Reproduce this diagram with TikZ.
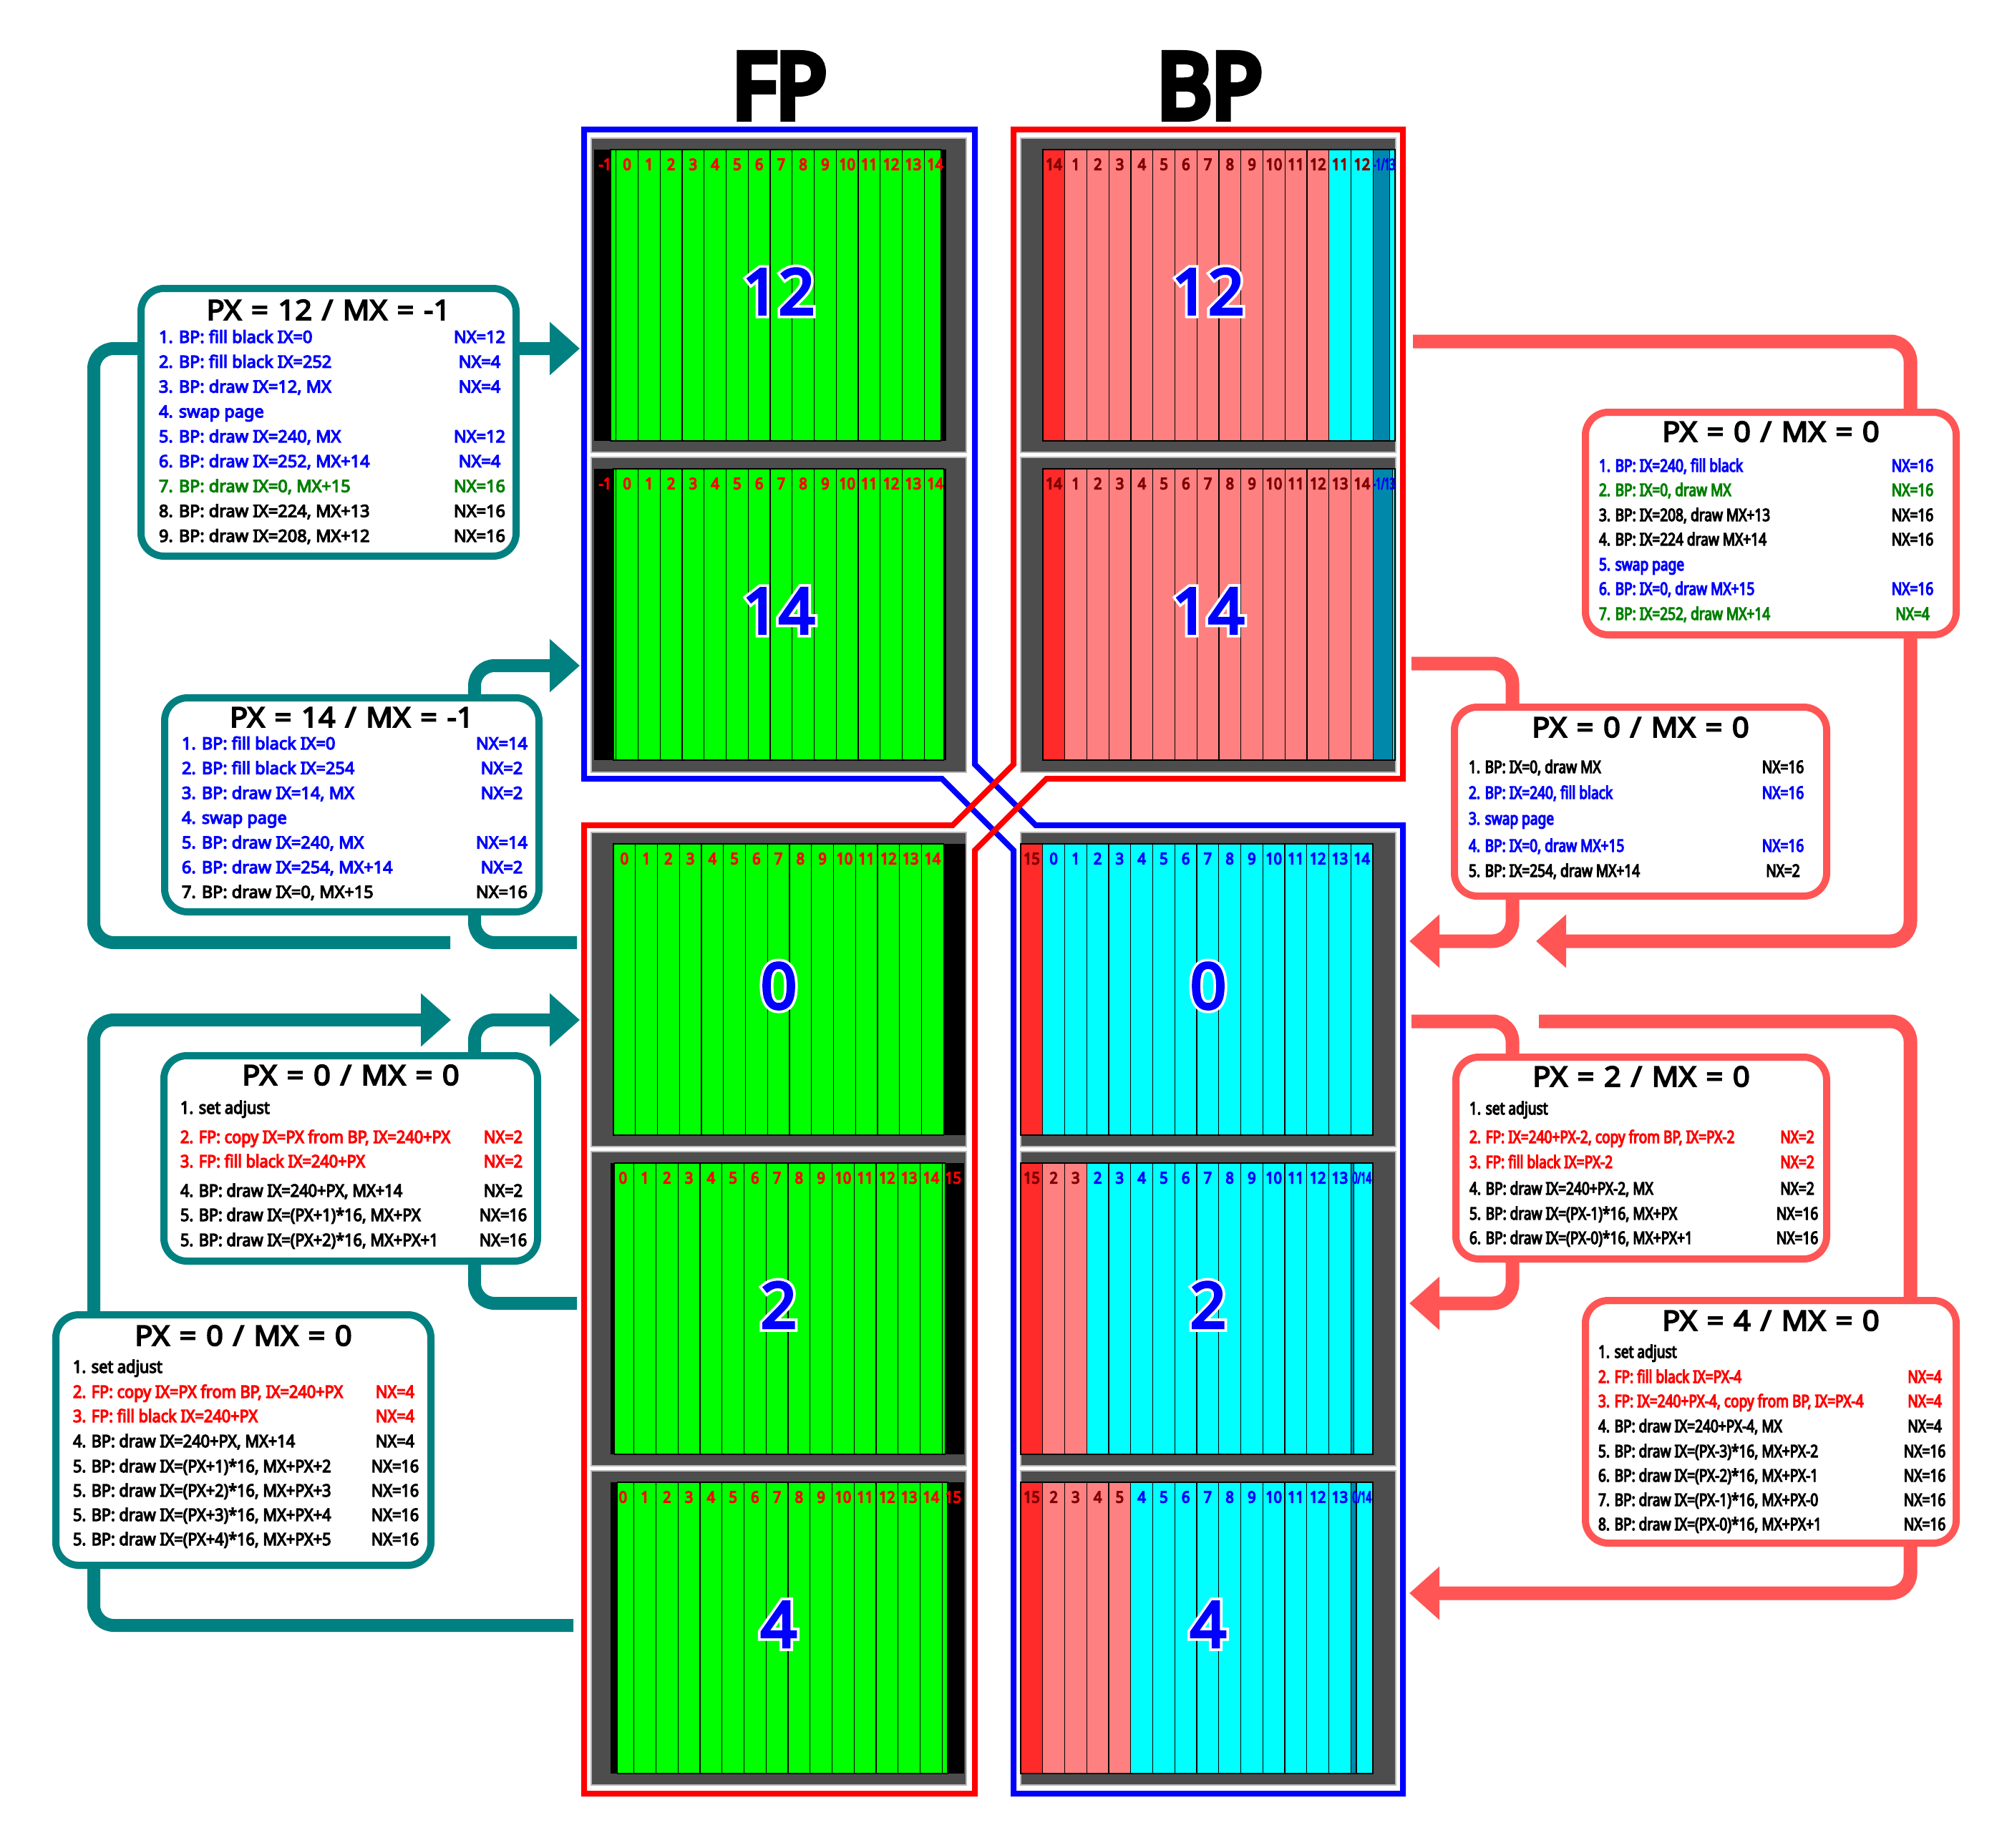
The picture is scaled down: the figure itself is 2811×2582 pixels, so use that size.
\documentclass[tikz,border=0pt]{standalone}
\usepackage{fontspec}
\usetikzlibrary{arrows.meta}
\newfontfamily\fN{Noto Sans}[FakeBold=5]
\newfontfamily\fNt{Noto Sans}[FakeStretch=1.07,FakeBold=4.5,WordSpace=1.25]
\newfontfamily\fNh{Noto Sans}[FakeStretch=0.93,FakeBold=8]
\newfontfamily\fNb{Noto Sans}[FakeStretch=0.905,FakeBold=5]
\newfontfamily\fNc{Noto Sans}[FakeStretch=0.795,FakeBold=5]
\newfontfamily\fNl{Noto Sans}[FakeStretch=0.9,FakeBold=6]
\newfontfamily\fNs{Noto Sans}[FakeStretch=0.58,FakeBold=5]
\newfontfamily\fNbig{Noto Sans}[FakeBold=4.5]
\newfontfamily\fNhalo{Noto Sans}[FakeBold=13]
\definecolor{tl}{RGB}{0,128,128}
\definecolor{sl}{RGB}{255,85,85}
\definecolor{salmcell}{RGB}{255,128,128}
\definecolor{redcell}{RGB}{255,42,42}
\definecolor{tealcell}{RGB}{0,136,170}
\definecolor{cyn}{RGB}{0,255,255}
\definecolor{dred}{RGB}{128,0,0}
\definecolor{gp}{RGB}{77,77,77}
\definecolor{dgreen}{RGB}{0,128,0}
\definecolor{fpg}{RGB}{0,255,0}
\definecolor{bl}{RGB}{0,0,255}
\definecolor{rd}{RGB}{255,0,0}
\newcommand\fIa{\fN\fontsize{23.5}{23.5}\selectfont}
\newcommand\fIb{\fNb\fontsize{24}{24}\selectfont}
\newcommand\fIc{\fNc\fontsize{24}{24}\selectfont}
\newcommand\cw{30.75}
\newcommand\bxi[6]{\node[anchor=base west, text=#3, font=#2] (#1) at (#4,#5) {#6};}
\newcommand\bxn[6]{\node[anchor=base, text=#3, font=#2] (#1) at (#4,#5) {#6};}
% FP strip: id, origin, ytop, shift, bg left, label offset, last label slot
\newcommand\fpstrip[7]{%
  \fill[black] (#5,#3) rectangle ({#2+16*\cw},{#3+407});
  \foreach \k in {0,...,15}{%
    \pgfmathsetmacro\xa{max(#2+\k*\cw, #2+#4)}%
    \pgfmathsetmacro\xb{min(#2+(\k+1)*\cw, #2+15*\cw+#4)}%
    \ifdim\xa pt<\xb pt \filldraw[fill=fpg, cellr] (\xa,#3) rectangle (\xb,{#3+407}); \fi
  }
  \foreach \k in {0,...,#7}{%
    \pgfmathtruncatemacro\lab{\k+#6}%
    \node[clab, text=rd] (#1-\k) at ({#2+(\k+0.5)*\cw},{#3+28.5}) {\lab};
  }
}
% BP cell: id, slot, origin, ytop, fill, label, label colour
\newcommand\bpcell[7]{%
  \filldraw[fill=#5, cellr] ({#3+#2*\cw},#4) rectangle ({#3+(#2+1)*\cw},{#4+407});
  \node[clab, text=#7] (#1-#2) at ({#3+(#2+0.5)*\cw},{#4+28.5}) {#6};
}
% BP split last slot: id, origin, ytop, teal width, label
\newcommand\bpsplit[5]{%
  \filldraw[fill=cyn, cellr] ({#2+15*\cw},#3) rectangle ({#2+16*\cw},{#3+407});
  \filldraw[fill=tealcell, cellr] ({#2+15*\cw},#3) rectangle ({#2+15*\cw+#4},{#3+407});
  \node[clabs] (#1-15) at ({#2+15.5*\cw},{#3+28.5}) {#5};
}
% big number with white halo: id, x, y, text
\newcommand\bignr[4]{%
  \node[bighalo] (#1h) at (#2,#3) {#4};
  \node[bignum] (#1) at (#2,#3) {#4};
}
\tikzset{
  every node/.style={inner sep=0pt, outer sep=0pt},
  frameline/.style={line width=8pt},
  panel/.style={fill=gp, draw=gray!55, line width=1.5pt},
  cellr/.style={draw=black, line width=1.2pt},
  clab/.style={anchor=base, font=\fNl\fontsize{22}{22}\selectfont},
  clabs/.style={anchor=base, text=bl, font=\fNs\fontsize{22}{22}\selectfont},
  bignum/.style={anchor=base, text=bl, font=\fNbig\fontsize{88}{88}\selectfont},
  bighalo/.style={anchor=base, text=white, font=\fNhalo\fontsize{88}{88}\selectfont},
  hdr/.style={anchor=base, font=\fNh\fontsize{126}{126}\selectfont},
  ttl/.style={anchor=base, font=\fNt\fontsize{39}{39}\selectfont},
  tbox/.style={draw=tl, fill=white, line width=10pt, rounded corners=32pt},
  sbox/.style={draw=sl, fill=white, line width=10pt, rounded corners=32pt},
  conT/.style={draw=tl, line width=18pt, rounded corners=28pt},
  conS/.style={draw=sl, line width=19pt, rounded corners=28pt},
  arrowT/.style={-{Triangle[length=42pt,width=72pt]}},
}
\begin{document}
\begin{tikzpicture}[x=1pt,y=-1pt]
\fill[white] (0,0) rectangle (2811,2582);
\useasboundingbox (0,0) rectangle (2811,2582);

% ---------- panels ----------
\foreach \ya/\yb in {193/632,639/1079,1163/1602,1609/2048,2055/2494}{
  \draw[panel] (826,\ya) rectangle (1350,\yb);
  \draw[panel] (1426,\ya) rectangle (1950,\yb);
}
% FP strips
\fpstrip{fa}{830}{209}{23.0625}{830}{-1}{15}
\fpstrip{fb}{830}{655}{26.906}{830}{-1}{15}
\fpstrip{fc}{857}{1179}{0}{857}{0}{14}
\fpstrip{fd}{855}{1625}{3.84}{853}{0}{15}
\fpstrip{fe}{855}{2071}{7.69}{853}{0}{15}
% BP top 12
\bpcell{ba}{0}{1457}{209}{redcell}{14}{dred}
\foreach \k in {1,...,12}{\bpcell{ba}{\k}{1457}{209}{salmcell}{\k}{dred}}
\bpcell{ba}{13}{1457}{209}{cyn}{11}{dred}
\bpcell{ba}{14}{1457}{209}{cyn}{12}{dred}
\bpsplit{ba}{1457}{209}{23.06}{-1/13}
% BP top 14
\bpcell{bb}{0}{1457}{655}{redcell}{14}{dred}
\foreach \k in {1,...,14}{\bpcell{bb}{\k}{1457}{655}{salmcell}{\k}{dred}}
\bpsplit{bb}{1457}{655}{26.9}{-1/13}
% BP bottom 0
\bpcell{bc}{0}{1426}{1179}{redcell}{15}{dred}
\foreach \k [evaluate=\k as \lab using int(\k-1)] in {1,...,15}{\bpcell{bc}{\k}{1426}{1179}{cyn}{\lab}{bl}}
% BP bottom 2
\bpcell{bd}{0}{1426}{1625}{redcell}{15}{dred}
\foreach \k [evaluate=\k as \lab using int(\k+1)] in {1,2}{\bpcell{bd}{\k}{1426}{1625}{salmcell}{\lab}{dred}}
\foreach \k [evaluate=\k as \lab using int(\k-1)] in {3,...,14}{\bpcell{bd}{\k}{1426}{1625}{cyn}{\lab}{bl}}
\bpsplit{bd}{1426}{1625}{3.84}{0/14}
% BP bottom 4
\bpcell{be}{0}{1426}{2071}{redcell}{15}{dred}
\foreach \k [evaluate=\k as \lab using int(\k+1)] in {1,...,4}{\bpcell{be}{\k}{1426}{2071}{salmcell}{\lab}{dred}}
\foreach \k [evaluate=\k as \lab using int(\k-1)] in {5,...,14}{\bpcell{be}{\k}{1426}{2071}{cyn}{\lab}{bl}}
\bpsplit{be}{1426}{2071}{7.69}{0/14}

% big numbers
\bignr{nfa}{1088}{439}{12}
\bignr{nfb}{1088}{885}{14}
\bignr{nfc}{1088}{1409}{0}
\bignr{nfd}{1088}{1855}{2}
\bignr{nfe}{1088}{2301}{4}
\bignr{nba}{1688}{439}{12}
\bignr{nbb}{1688}{885}{14}
\bignr{nbc}{1688}{1409}{0}
\bignr{nbd}{1688}{1855}{2}
\bignr{nbe}{1688}{2301}{4}

% ---------- frames ----------
\draw[frameline, bl] (816,181) -- (1362,181) -- (1362,1068) -- (1447,1153) -- (1960,1153) -- (1960,2506) -- (1416,2506) -- (1416,1188) -- (1316,1088) -- (816,1088) -- cycle;
\draw[frameline, rd] (1416,181) -- (1960,181) -- (1960,1088) -- (1462,1088) -- (1362,1188) -- (1362,2506) -- (816,2506) -- (816,1153) -- (1331,1153) -- (1416,1068) -- cycle;

% headers
\node[hdr] (hFP) at (1089,165) {FP};
\node[hdr] (hBP) at (1690,165) {BP};

% ---------- connectors ----------
\coordinate (l1s) at (629,1317); \coordinate (l1t) at (810,487);
\draw[conT,arrowT] (l1s) -- (131,1317) |- (l1t);
\coordinate (l2s) at (806,1317); \coordinate (l2t) at (810,930);
\draw[conT,arrowT] (l2s) -- (663,1317) |- (l2t);
\coordinate (l3s) at (801,2271); \coordinate (l3t) at (630,1425);
\draw[conT,arrowT] (l3s) -- (131,2271) |- (l3t);
\coordinate (l4s) at (806,1821); \coordinate (l4t) at (810,1425);
\draw[conT,arrowT] (l4s) -- (663,1821) |- (l4t);
\coordinate (r1s) at (1974,477); \coordinate (r1t) at (2146,1315);
\draw[conS,arrowT] (r1s) -- (2669,477) |- (r1t);
\coordinate (r2s) at (1972,927); \coordinate (r2t) at (1969,1315);
\draw[conS,arrowT] (r2s) -- (2113,927) |- (r2t);
\coordinate (r3s) at (1972,1427); \coordinate (r3t) at (1969,1821);
\draw[conS,arrowT] (r3s) -- (2113,1427) |- (r3t);
\coordinate (r4s) at (2150,1427); \coordinate (r4t) at (1969,2226);
\draw[conS,arrowT] (r4s) -- (2669,1427) |- (r4t);

% ---------- box 1 ----------
\node[tbox, minimum width=524pt, minimum height=374pt] (B1) at (459,590) {};
\node[ttl] (B1t) at (459,447) {PX = 12 / MX = -1};
\bxi{B1a1}{\fIa}{bl}{222}{479}{1. BP: fill black IX=0}
\bxn{B1n1}{\fIa}{bl}{670}{479}{NX=12}
\bxi{B1a2}{\fIa}{bl}{222}{513.75}{2. BP: fill black IX=252}
\bxn{B1n2}{\fIa}{bl}{670}{513.75}{NX=4}
\bxi{B1a3}{\fIa}{bl}{222}{548.5}{3. BP: draw IX=12, MX}
\bxn{B1n3}{\fIa}{bl}{670}{548.5}{NX=4}
\bxi{B1a4}{\fIa}{bl}{222}{583.25}{4. swap page}
\bxi{B1a5}{\fIa}{bl}{222}{618}{5. BP: draw IX=240, MX}
\bxn{B1n5}{\fIa}{bl}{670}{618}{NX=12}
\bxi{B1a6}{\fIa}{bl}{222}{652.75}{6. BP: draw IX=252, MX+14}
\bxn{B1n6}{\fIa}{bl}{670}{652.75}{NX=4}
\bxi{B1a7}{\fIa}{dgreen}{222}{687.5}{7. BP: draw IX=0, MX+15}
\bxn{B1n7}{\fIa}{dgreen}{670}{687.5}{NX=16}
\bxi{B1a8}{\fIa}{black}{222}{722.25}{8. BP: draw IX=224, MX+13}
\bxn{B1n8}{\fIa}{black}{670}{722.25}{NX=16}
\bxi{B1a9}{\fIa}{black}{222}{757}{9. BP: draw IX=208, MX+12}
\bxn{B1n9}{\fIa}{black}{670}{757}{NX=16}

% ---------- box 2 ----------
\node[tbox, minimum width=523pt, minimum height=299pt] (B2) at (491.5,1124.5) {};
\node[ttl] (B2t) at (491.5,1016) {PX = 14 / MX = -1};
\bxi{B2a1}{\fIa}{bl}{254}{1047}{1. BP: fill black IX=0}
\bxn{B2n1}{\fIa}{bl}{701}{1047}{NX=14}
\bxi{B2a2}{\fIa}{bl}{254}{1081.6}{2. BP: fill black IX=254}
\bxn{B2n2}{\fIa}{bl}{701}{1081.6}{NX=2}
\bxi{B2a3}{\fIa}{bl}{254}{1116.2}{3. BP: draw IX=14, MX}
\bxn{B2n3}{\fIa}{bl}{701}{1116.2}{NX=2}
\bxi{B2a4}{\fIa}{bl}{254}{1150.8}{4. swap page}
\bxi{B2a5}{\fIa}{bl}{254}{1185.4}{5. BP: draw IX=240, MX}
\bxn{B2n5}{\fIa}{bl}{701}{1185.4}{NX=14}
\bxi{B2a6}{\fIa}{bl}{254}{1220}{6. BP: draw IX=254, MX+14}
\bxn{B2n6}{\fIa}{bl}{701}{1220}{NX=2}
\bxi{B2a7}{\fIa}{black}{254}{1254.6}{7. BP: draw IX=0, MX+15}
\bxn{B2n7}{\fIa}{black}{701}{1254.6}{NX=16}

% ---------- box 3 ----------
\node[tbox, minimum width=522pt, minimum height=287pt] (B3) at (490,1618.5) {};
\node[ttl] (B3t) at (490,1516) {PX = 0 / MX = 0};
\bxi{B3a1}{\fIb}{black}{252}{1556}{1. set adjust}
\bxi{B3a2}{\fIb}{rd}{252}{1597}{2. FP: copy IX=PX from BP, IX=240+PX}
\bxn{B3n2}{\fIb}{rd}{703}{1597}{NX=2}
\bxi{B3a3}{\fIb}{rd}{252}{1631}{3. FP: fill black IX=240+PX}
\bxn{B3n3}{\fIb}{rd}{703}{1631}{NX=2}
\bxi{B3a4}{\fIb}{black}{252}{1672}{4. BP: draw IX=240+PX, MX+14}
\bxn{B3n4}{\fIb}{black}{703}{1672}{NX=2}
\bxi{B3a5}{\fIb}{black}{252}{1706}{5. BP: draw IX=(PX+1)*16, MX+PX}
\bxn{B3n5}{\fIb}{black}{703}{1706}{NX=16}
\bxi{B3a6}{\fIb}{black}{252}{1741}{5. BP: draw IX=(PX+2)*16, MX+PX+1}
\bxn{B3n6}{\fIb}{black}{703}{1741}{NX=16}

% ---------- box 4 ----------
\node[tbox, minimum width=524pt, minimum height=350pt] (B4) at (340,2012) {};
\node[ttl] (B4t) at (340,1880) {PX = 0 / MX = 0};
\bxi{B4a1}{\fIb}{black}{102}{1918}{1. set adjust}
\bxi{B4a2}{\fIb}{rd}{102}{1953}{2. FP: copy IX=PX from BP, IX=240+PX}
\bxn{B4n2}{\fIb}{rd}{552}{1953}{NX=4}
\bxi{B4a3}{\fIb}{rd}{102}{1987}{3. FP: fill black IX=240+PX}
\bxn{B4n3}{\fIb}{rd}{552}{1987}{NX=4}
\bxi{B4a4}{\fIb}{black}{102}{2022}{4. BP: draw IX=240+PX, MX+14}
\bxn{B4n4}{\fIb}{black}{552}{2022}{NX=4}
\bxi{B4a5}{\fIb}{black}{102}{2057}{5. BP: draw IX=(PX+1)*16, MX+PX+2}
\bxn{B4n5}{\fIb}{black}{552}{2057}{NX=16}
\bxi{B4a6}{\fIb}{black}{102}{2091}{5. BP: draw IX=(PX+2)*16, MX+PX+3}
\bxn{B4n6}{\fIb}{black}{552}{2091}{NX=16}
\bxi{B4a7}{\fIb}{black}{102}{2125}{5. BP: draw IX=(PX+3)*16, MX+PX+4}
\bxn{B4n7}{\fIb}{black}{552}{2125}{NX=16}
\bxi{B4a8}{\fIb}{black}{102}{2159}{5. BP: draw IX=(PX+4)*16, MX+PX+5}
\bxn{B4n8}{\fIb}{black}{552}{2159}{NX=16}

% ---------- right box 1 ----------
\node[sbox, minimum width=518pt, minimum height=311pt] (R1) at (2474,731.5) {};
\node[ttl] (R1t) at (2474,617) {PX = 0 / MX = 0};
\bxi{R1a1}{\fIc}{bl}{2234}{659}{1. BP: IX=240, fill black}
\bxn{R1n1}{\fIc}{bl}{2672}{659}{NX=16}
\bxi{R1a2}{\fIc}{dgreen}{2234}{693}{2. BP: IX=0, draw MX}
\bxn{R1n2}{\fIc}{dgreen}{2672}{693}{NX=16}
\bxi{R1a3}{\fIc}{black}{2234}{728}{3. BP: IX=208, draw MX+13}
\bxn{R1n3}{\fIc}{black}{2672}{728}{NX=16}
\bxi{R1a4}{\fIc}{black}{2234}{762}{4. BP: IX=224 draw MX+14}
\bxn{R1n4}{\fIc}{black}{2672}{762}{NX=16}
\bxi{R1a5}{\fIc}{bl}{2234}{797}{5. swap page}
\bxi{R1a6}{\fIc}{bl}{2234}{831}{6. BP: IX=0, draw MX+15}
\bxn{R1n6}{\fIc}{bl}{2672}{831}{NX=16}
\bxi{R1a7}{\fIc}{dgreen}{2234}{866}{7. BP: IX=252, draw MX+14}
\bxn{R1n7}{\fIc}{dgreen}{2672}{866}{NX=4}

% ---------- right box 2 ----------
\node[sbox, minimum width=520pt, minimum height=264pt] (R2) at (2292,1120) {};
\node[ttl] (R2t) at (2292,1030) {PX = 0 / MX = 0};
\bxi{R2a1}{\fIc}{black}{2052}{1080}{1. BP: IX=0, draw MX}
\bxn{R2n1}{\fIc}{black}{2491}{1080}{NX=16}
\bxi{R2a2}{\fIc}{bl}{2052}{1116}{2. BP: IX=240, fill black}
\bxn{R2n2}{\fIc}{bl}{2491}{1116}{NX=16}
\bxi{R2a3}{\fIc}{bl}{2052}{1152}{3. swap page}
\bxi{R2a4}{\fIc}{bl}{2052}{1190}{4. BP: IX=0, draw MX+15}
\bxn{R2n4}{\fIc}{bl}{2491}{1190}{NX=16}
\bxi{R2a5}{\fIc}{black}{2052}{1225}{5. BP: IX=254, draw MX+14}
\bxn{R2n5}{\fIc}{black}{2491}{1225}{NX=2}

% ---------- right box 3 ----------
\node[sbox, minimum width=518pt, minimum height=282pt] (R3) at (2293,1618) {};
\node[ttl] (R3t) at (2293,1518) {PX = 2 / MX = 0};
\bxi{R3a1}{\fIc}{black}{2053}{1557}{1. set adjust}
\bxi{R3a2}{\fIc}{rd}{2053}{1597}{2. FP: IX=240+PX-2, copy from BP, IX=PX-2}
\bxn{R3n2}{\fIc}{rd}{2511}{1597}{NX=2}
\bxi{R3a3}{\fIc}{rd}{2053}{1632}{3. FP: fill black IX=PX-2}
\bxn{R3n3}{\fIc}{rd}{2511}{1632}{NX=2}
\bxi{R3a4}{\fIc}{black}{2053}{1669}{4. BP: draw IX=240+PX-2, MX}
\bxn{R3n4}{\fIc}{black}{2511}{1669}{NX=2}
\bxi{R3a5}{\fIc}{black}{2053}{1704}{5. BP: draw IX=(PX-1)*16, MX+PX}
\bxn{R3n5}{\fIc}{black}{2511}{1704}{NX=16}
\bxi{R3a6}{\fIc}{black}{2053}{1738}{6. BP: draw IX=(PX-0)*16, MX+PX+1}
\bxn{R3n6}{\fIc}{black}{2511}{1738}{NX=16}

% ---------- right box 4 ----------
\node[sbox, minimum width=518pt, minimum height=339pt] (R4) at (2474,1986.5) {};
\node[ttl] (R4t) at (2474,1859) {PX = 4 / MX = 0};
\bxi{R4a1}{\fIc}{black}{2233}{1897}{1. set adjust}
\bxi{R4a2}{\fIc}{rd}{2233}{1932}{2. FP: fill black IX=PX-4}
\bxn{R4n2}{\fIc}{rd}{2689}{1932}{NX=4}
\bxi{R4a3}{\fIc}{rd}{2233}{1966}{3. FP: IX=240+PX-4, copy from BP, IX=PX-4}
\bxn{R4n3}{\fIc}{rd}{2689}{1966}{NX=4}
\bxi{R4a4}{\fIc}{black}{2233}{2001}{4. BP: draw IX=240+PX-4, MX}
\bxn{R4n4}{\fIc}{black}{2689}{2001}{NX=4}
\bxi{R4a5}{\fIc}{black}{2233}{2036}{5. BP: draw IX=(PX-3)*16, MX+PX-2}
\bxn{R4n5}{\fIc}{black}{2689}{2036}{NX=16}
\bxi{R4a6}{\fIc}{black}{2233}{2070}{6. BP: draw IX=(PX-2)*16, MX+PX-1}
\bxn{R4n6}{\fIc}{black}{2689}{2070}{NX=16}
\bxi{R4a7}{\fIc}{black}{2233}{2104}{7. BP: draw IX=(PX-1)*16, MX+PX-0}
\bxn{R4n7}{\fIc}{black}{2689}{2104}{NX=16}
\bxi{R4a8}{\fIc}{black}{2233}{2138}{8. BP: draw IX=(PX-0)*16, MX+PX+1}
\bxn{R4n8}{\fIc}{black}{2689}{2138}{NX=16}
\end{tikzpicture}
\end{document}
